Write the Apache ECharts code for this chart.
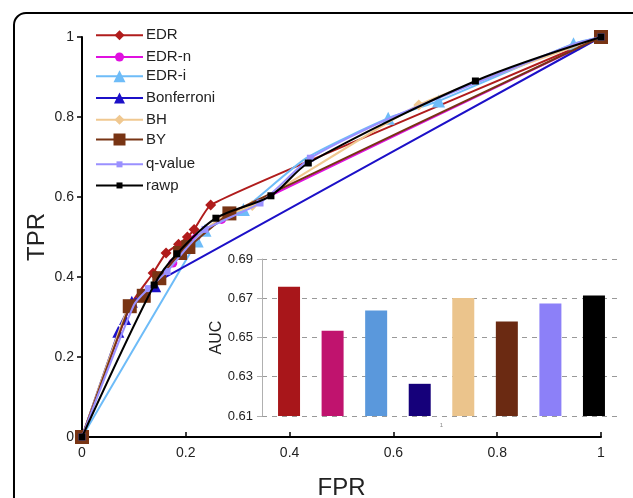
<!DOCTYPE html>
<html>
<head>
<meta charset="utf-8">
<script src="https://cdn.jsdelivr.net/npm/echarts@6/dist/echarts.min.js"></script>
<style>
  html, body { margin: 0; padding: 0; background: #fff; }
  #chart { width: 633px; height: 498px; }
</style>
</head>
<body>
<div id="chart"></div>
<script>
// ROC curves (FPR vs TPR) per method, with an inset bar chart of AUC.
const methods = ['EDR', 'EDR-n', 'EDR-i', 'Bonferroni', 'BH', 'BY', 'q-value', 'rawp'];

// [FPR, TPR] points
const edr = [[0, 0], [0.092, 0.327], [0.137, 0.41], [0.162, 0.46], [0.186, 0.482], [0.203, 0.5], [0.216, 0.519], [0.248, 0.58], [0.43, 0.686], [1, 1]];
const edrN = [[0, 0], [0.092, 0.325], [0.128, 0.37], [0.15, 0.4], [0.175, 0.435], [0.219, 0.497], [0.269, 0.544], [1, 1]];
const edrI = [[0, 0], [0.222, 0.49], [0.237, 0.517], [0.311, 0.569], [0.432, 0.697], [0.59, 0.797], [0.687, 0.84], [0.947, 0.983], [1, 1]];
const bonferroni = [[0, 0], [0.07, 0.263], [0.083, 0.295], [0.096, 0.338], [0.141, 0.377], [0.158, 0.398], [1, 1]];
const bh = [[0, 0], [0.085, 0.31], [0.115, 0.35], [0.15, 0.395], [0.19, 0.455], [0.23, 0.51], [0.27, 0.55], [0.328, 0.579], [0.649, 0.83], [1, 1]];
const by = [[0, 0], [0.092, 0.327], [0.119, 0.353], [0.149, 0.397], [0.189, 0.46], [0.205, 0.475], [0.284, 0.559], [1, 1]];
const qValue = [[0, 0], [0.1, 0.33], [0.128, 0.371], [0.164, 0.414], [0.2, 0.47], [0.237, 0.519], [0.343, 0.585], [0.44, 0.697], [0.59, 0.795], [0.947, 0.982], [1, 1]];
const rawp = [[0, 0], [0.139, 0.38], [0.183, 0.458], [0.258, 0.547], [0.364, 0.603], [0.436, 0.685], [0.758, 0.89], [1, 1]];

// points whose marker is not visible in the picture (covered or absent)
const hiddenMarks = {
  'EDR': [1, 8],
  'EDR-n': [1, 2, 3],
  'EDR-i': [4],
  'Bonferroni': [5],
  'BH': [1, 2, 3, 4, 5, 6],
  'BY': [],
  'q-value': [1, 4, 8, 9],
  'rawp': []
};

// AUC per method (inset)
const auc = [0.6758, 0.6534, 0.6637, 0.6264, 0.6701, 0.6582, 0.6673, 0.6714];
const aucCategory = ['1'];

const rocData = [edr, edrN, edrI, bonferroni, bh, by, qValue, rawp];
const lineColors = ['#b01c1c', '#e010e0', '#6ebcf8', '#1c10c8', '#f0c890', '#783414', '#9a90ff', '#000000'];
const barColors = ['#a8161a', '#c0136e', '#5a98dc', '#15007a', '#ebc48c', '#6b2a12', '#8c80f8', '#000000'];
const symbols = ['diamond', 'circle', 'triangle', 'triangle', 'diamond', 'rect', 'rect', 'rect'];
const symbolSizes = [11, 9, 13, 12, 11, 14, 7, 7];
const legendSymbolSizes = [10, 9, 12, 11, 10, 12, 6, 6];
const smoothness = [0.15, 0.15, 0.2, 0.1, 0.15, 0.1, 0.2, 0.3];

const font = '"Liberation Sans", Arial, sans-serif';
const chart = echarts.init(document.getElementById('chart'), null, { renderer: 'canvas' });

const lineSeries = methods.map(function (m, i) {
  const hide = hiddenMarks[m];
  return {
    type: 'line',
    name: m,
    xAxisIndex: 0,
    yAxisIndex: 0,
    smooth: smoothness[i],
    symbol: symbols[i],
    symbolSize: symbolSizes[i],
    showAllSymbol: true,
    lineStyle: { color: lineColors[i], width: 2 },
    itemStyle: { color: lineColors[i], borderWidth: 0 },
    data: rocData[i].map(function (p, j) {
      return hide.indexOf(j) >= 0 ? { value: p, symbol: 'none' } : p;
    }),
    z: 3 + i
  };
});

const barSeries = methods.map(function (m, i) {
  return {
    type: 'bar',
    name: 'AUC ' + m,
    xAxisIndex: 1,
    yAxisIndex: 1,
    barWidth: 22,
    barGap: '98%',
    itemStyle: { color: barColors[i] },
    data: [auc[i]],
    z: 12
  };
});

// one legend per row so each icon keeps its own marker size (icon marker = 0.8 * itemHeight)
const legends = methods.map(function (m, i) {
  const h = legendSymbolSizes[i] / 0.8;
  const rowCenter = 34 + i * 21.1;
  return {
    data: [m],
    orient: 'vertical',
    left: 95,
    top: rowCenter - h / 2,
    padding: 0,
    itemWidth: 47,
    itemHeight: h,
    textStyle: { fontFamily: font, fontSize: 15, color: '#222', padding: [0, 0, 0, -2] }
  };
});

chart.setOption({
  animation: false,
  backgroundColor: '#fff',
  textStyle: { fontFamily: font },
  graphic: [{
    type: 'rect',
    shape: { x: 14, y: 13, width: 640, height: 500, r: 12 },
    style: { fill: 'none', stroke: '#000', lineWidth: 2 },
    z: 0
  }],
  legend: legends,
  grid: [
    { left: 82, right: 32, top: 37, bottom: 61, outerBoundsMode: 'none', containLabel: false },
    { left: 262, right: 12, top: 259, bottom: 82, outerBoundsMode: 'none', containLabel: false }
  ],
  xAxis: [{
    type: 'value',
    gridIndex: 0,
    min: 0, max: 1, interval: 0.2,
    name: 'FPR',
    nameLocation: 'middle',
    nameGap: 39,
    nameTextStyle: { fontFamily: font, fontSize: 24, color: '#222' },
    axisLine: { lineStyle: { color: '#000', width: 2 } },
    axisTick: { inside: true, length: 5, lineStyle: { color: '#000', width: 1.5 } },
    axisLabel: { fontFamily: font, fontSize: 14, color: '#222', margin: 9 },
    splitLine: { show: false }
  }, {
    type: 'category',
    gridIndex: 1,
    data: aucCategory,
    axisLine: { show: false },
    axisTick: { show: false },
    axisLabel: { fontFamily: font, fontSize: 6, color: '#888', margin: 6 }
  }],
  yAxis: [{
    type: 'value',
    gridIndex: 0,
    min: 0, max: 1, interval: 0.2,
    name: 'TPR',
    nameLocation: 'middle',
    nameGap: 33,
    nameMoveOverlap: false,
    nameTextStyle: { fontFamily: font, fontSize: 24, color: '#222' },
    axisLine: { show: true, lineStyle: { color: '#000', width: 2 } },
    axisTick: { show: true, length: 5, lineStyle: { color: '#000', width: 1.5 } },
    axisLabel: { fontFamily: font, fontSize: 14, color: '#222', margin: 8 },
    splitLine: { show: false }
  }, {
    type: 'value',
    gridIndex: 1,
    min: 0.61, max: 0.69, interval: 0.02,
    name: 'AUC',
    nameLocation: 'middle',
    nameGap: 37,
    nameMoveOverlap: false,
    nameTextStyle: { fontFamily: font, fontSize: 16, color: '#222' },
    axisLine: { show: true, lineStyle: { color: '#b0b0b0', width: 1 } },
    axisTick: { show: true, length: 5, lineStyle: { color: '#b0b0b0' } },
    axisLabel: { fontFamily: font, fontSize: 13, color: '#222', margin: 9,
      formatter: function (v) { return v.toFixed(2); } },
    splitLine: { show: true, lineStyle: { color: '#999', type: [5, 5], width: 1 } }
  }],
  series: lineSeries.concat(barSeries)
});
</script>
</body>
</html>
